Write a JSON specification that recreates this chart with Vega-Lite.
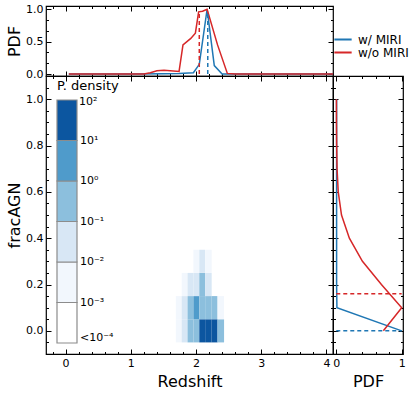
{
  "$schema": "https://vega.github.io/schema/vega-lite/v6.json",
  "padding": {"left": 5, "top": 2, "right": 0, "bottom": 0},
  "datasets": {
    "zpdf": [
      {"series": "w/ MIRI", "z": 0.05, "pdf": 0.0},
      {"series": "w/ MIRI", "z": 1.0, "pdf": 0.0},
      {"series": "w/ MIRI", "z": 1.5, "pdf": 0.005},
      {"series": "w/ MIRI", "z": 1.74, "pdf": 0.01},
      {"series": "w/ MIRI", "z": 1.96, "pdf": 0.02},
      {"series": "w/ MIRI", "z": 2.05, "pdf": 0.15},
      {"series": "w/ MIRI", "z": 2.17, "pdf": 1.0},
      {"series": "w/ MIRI", "z": 2.28, "pdf": 0.13},
      {"series": "w/ MIRI", "z": 2.4, "pdf": 0.0},
      {"series": "w/ MIRI", "z": 3.0, "pdf": 0.0},
      {"series": "w/ MIRI", "z": 4.1, "pdf": 0.0},
      {"series": "w/o MIRI", "z": 0.05, "pdf": 0.0},
      {"series": "w/o MIRI", "z": 1.2, "pdf": 0.0},
      {"series": "w/o MIRI", "z": 1.3, "pdf": 0.02},
      {"series": "w/o MIRI", "z": 1.4, "pdf": 0.05},
      {"series": "w/o MIRI", "z": 1.51, "pdf": 0.06},
      {"series": "w/o MIRI", "z": 1.74, "pdf": 0.04},
      {"series": "w/o MIRI", "z": 1.8, "pdf": 0.45},
      {"series": "w/o MIRI", "z": 1.92, "pdf": 0.55},
      {"series": "w/o MIRI", "z": 1.99, "pdf": 0.63},
      {"series": "w/o MIRI", "z": 2.04, "pdf": 0.96},
      {"series": "w/o MIRI", "z": 2.1, "pdf": 0.97},
      {"series": "w/o MIRI", "z": 2.17, "pdf": 1.0},
      {"series": "w/o MIRI", "z": 2.33, "pdf": 0.45},
      {"series": "w/o MIRI", "z": 2.48, "pdf": 0.01},
      {"series": "w/o MIRI", "z": 2.6, "pdf": 0.0},
      {"series": "w/o MIRI", "z": 4.1, "pdf": 0.0}
    ],
    "zmed": [
      {"series": "w/ MIRI", "z": 2.18, "pdf_lo": 0, "pdf_hi": 0.95},
      {"series": "w/o MIRI", "z": 2.05, "pdf_lo": 0, "pdf_hi": 0.97}
    ],
    "heat": [
      {"z_lo": 1.69, "z_hi": 1.78, "f_lo": -0.05, "f_hi": 0.05, "log_density": -2.3},
      {"z_lo": 1.78, "z_hi": 1.87, "f_lo": -0.05, "f_hi": 0.05, "log_density": -1.3},
      {"z_lo": 1.87, "z_hi": 1.96, "f_lo": -0.05, "f_hi": 0.05, "log_density": -0.3},
      {"z_lo": 1.96, "z_hi": 2.05, "f_lo": -0.05, "f_hi": 0.05, "log_density": -0.3},
      {"z_lo": 2.05, "z_hi": 2.14, "f_lo": -0.05, "f_hi": 0.05, "log_density": 1.5},
      {"z_lo": 2.14, "z_hi": 2.24, "f_lo": -0.05, "f_hi": 0.05, "log_density": 1.5},
      {"z_lo": 2.24, "z_hi": 2.33, "f_lo": -0.05, "f_hi": 0.05, "log_density": 1.5},
      {"z_lo": 2.33, "z_hi": 2.43, "f_lo": -0.05, "f_hi": 0.05, "log_density": -0.3},
      {"z_lo": 1.69, "z_hi": 1.78, "f_lo": 0.05, "f_hi": 0.15, "log_density": -2.3},
      {"z_lo": 1.78, "z_hi": 1.87, "f_lo": 0.05, "f_hi": 0.15, "log_density": -1.3},
      {"z_lo": 1.87, "z_hi": 1.96, "f_lo": 0.05, "f_hi": 0.15, "log_density": -0.3},
      {"z_lo": 1.96, "z_hi": 2.05, "f_lo": 0.05, "f_hi": 0.15, "log_density": 0.7},
      {"z_lo": 2.05, "z_hi": 2.14, "f_lo": 0.05, "f_hi": 0.15, "log_density": -0.3},
      {"z_lo": 2.14, "z_hi": 2.24, "f_lo": 0.05, "f_hi": 0.15, "log_density": -0.3},
      {"z_lo": 2.24, "z_hi": 2.33, "f_lo": 0.05, "f_hi": 0.15, "log_density": -0.3},
      {"z_lo": 2.33, "z_hi": 2.43, "f_lo": 0.05, "f_hi": 0.15, "log_density": -2.3},
      {"z_lo": 1.78, "z_hi": 1.87, "f_lo": 0.15, "f_hi": 0.25, "log_density": -2.3},
      {"z_lo": 1.87, "z_hi": 1.96, "f_lo": 0.15, "f_hi": 0.25, "log_density": -1.3},
      {"z_lo": 1.96, "z_hi": 2.05, "f_lo": 0.15, "f_hi": 0.25, "log_density": -1.3},
      {"z_lo": 2.05, "z_hi": 2.14, "f_lo": 0.15, "f_hi": 0.25, "log_density": -0.3},
      {"z_lo": 2.14, "z_hi": 2.24, "f_lo": 0.15, "f_hi": 0.25, "log_density": -1.3},
      {"z_lo": 1.96, "z_hi": 2.05, "f_lo": 0.25, "f_hi": 0.35, "log_density": -2.3},
      {"z_lo": 2.05, "z_hi": 2.14, "f_lo": 0.25, "f_hi": 0.35, "log_density": -1.3},
      {"z_lo": 2.14, "z_hi": 2.24, "f_lo": 0.25, "f_hi": 0.35, "log_density": -2.3}
    ],
    "fpdf": [
      {"series": "w/ MIRI", "frac": 0.0, "pdf": 1.0},
      {"series": "w/ MIRI", "frac": 0.1, "pdf": 0.01},
      {"series": "w/ MIRI", "frac": 0.2, "pdf": 0.005},
      {"series": "w/ MIRI", "frac": 0.3, "pdf": 0.005},
      {"series": "w/ MIRI", "frac": 0.4, "pdf": 0.005},
      {"series": "w/ MIRI", "frac": 0.5, "pdf": 0.005},
      {"series": "w/ MIRI", "frac": 0.6, "pdf": 0.005},
      {"series": "w/ MIRI", "frac": 0.7, "pdf": 0.005},
      {"series": "w/ MIRI", "frac": 0.8, "pdf": 0.005},
      {"series": "w/ MIRI", "frac": 0.9, "pdf": 0.005},
      {"series": "w/ MIRI", "frac": 1.0, "pdf": 0.005},
      {"series": "w/o MIRI", "frac": 0.0, "pdf": 0.72},
      {"series": "w/o MIRI", "frac": 0.1, "pdf": 1.0},
      {"series": "w/o MIRI", "frac": 0.2, "pdf": 0.69},
      {"series": "w/o MIRI", "frac": 0.3, "pdf": 0.4},
      {"series": "w/o MIRI", "frac": 0.4, "pdf": 0.2},
      {"series": "w/o MIRI", "frac": 0.5, "pdf": 0.08},
      {"series": "w/o MIRI", "frac": 0.6, "pdf": 0.03},
      {"series": "w/o MIRI", "frac": 0.7, "pdf": 0.012},
      {"series": "w/o MIRI", "frac": 0.8, "pdf": 0.006},
      {"series": "w/o MIRI", "frac": 0.9, "pdf": 0.003},
      {"series": "w/o MIRI", "frac": 1.0, "pdf": 0.002}
    ],
    "fmed": [
      {"series": "w/ MIRI", "frac": 0.0, "pdf_lo": 0, "pdf_hi": 1},
      {"series": "w/o MIRI", "frac": 0.16, "pdf_lo": 0, "pdf_hi": 1}
    ]
  },
  "spacing": 0,
  "bounds": "flush",
  "resolve": {
    "scale": {"stroke": "independent", "fill": "independent", "strokeWidth": "independent"},
    "legend": {"stroke": "independent", "fill": "independent", "strokeWidth": "independent"}
  },
  "vconcat": [
    {
      "width": 287,
      "height": 70,
      "layer": [
        {
          "data": {"name": "zpdf"},
          "mark": {"type": "line", "strokeWidth": 1.5, "clip": true},
          "encoding": {
            "x": {
              "field": "z", "type": "quantitative",
              "scale": {"domain": [-0.3, 4.1], "nice": false, "zero": false},
              "axis": {
                "orient": "bottom", "title": null, "labels": false,
                "values": [-0.2, 0, 0.2, 0.4, 0.6, 0.8, 1, 1.2, 1.4, 1.6, 1.8, 2, 2.2, 2.4, 2.6, 2.8, 3, 3.2, 3.4, 3.6, 3.8, 4],
                "tickSize": {"condition": {"test": "abs(datum.value - round(datum.value)) < 0.001", "value": -5}, "value": -2.5}
              }
            },
            "y": {
              "field": "pdf", "type": "quantitative",
              "scale": {"domain": [-0.03, 1.05], "nice": false, "zero": false},
              "axis": {
                "orient": "left", "title": "PDF", "format": ".1f",
                "values": [0, 0.1667, 0.3333, 0.5, 0.6667, 0.8333, 1],
                "labelExpr": "abs(datum.value * 2 - round(datum.value * 2)) < 0.001 ? datum.label : ''",
                "tickSize": {"condition": {"test": "abs(datum.value * 2 - round(datum.value * 2)) < 0.001", "value": -5}, "value": -2.5}
              }
            },
            "stroke": {
              "field": "series", "type": "nominal",
              "scale": {"domain": ["w/ MIRI", "w/o MIRI"], "range": ["#1f77b4", "#d62728"]},
              "legend": {
                "orient": "none", "legendX": 287, "legendY": 27, "title": null,
                "symbolType": "stroke", "symbolStrokeWidth": 2, "symbolSize": 300, "clipHeight": 13,
                "labelFontSize": 12, "labelColor": "#000000", "labelOffset": 5, "rowPadding": 0
              }
            }
          }
        },
        {
          "data": {"name": "zmed"},
          "mark": {"type": "rule", "strokeDash": [4, 3], "strokeWidth": 1.5},
          "encoding": {
            "x": {
              "field": "z", "type": "quantitative",
              "axis": {
                "orient": "top", "title": null, "labels": false,
                "values": [-0.2, 0, 0.2, 0.4, 0.6, 0.8, 1, 1.2, 1.4, 1.6, 1.8, 2, 2.2, 2.4, 2.6, 2.8, 3, 3.2, 3.4, 3.6, 3.8, 4],
                "tickSize": {"condition": {"test": "abs(datum.value - round(datum.value)) < 0.001", "value": -5}, "value": -2.5}
              }
            },
            "y": {
              "field": "pdf_lo", "type": "quantitative",
              "axis": {
                "orient": "right", "title": null, "labels": false,
                "values": [0, 0.1667, 0.3333, 0.5, 0.6667, 0.8333, 1],
                "tickSize": {"condition": {"test": "abs(datum.value * 2 - round(datum.value * 2)) < 0.001", "value": -5}, "value": -2.5}
              }
            },
            "y2": {"field": "pdf_hi"},
            "stroke": {"field": "series", "type": "nominal", "legend": null}
          }
        }
      ],
      "resolve": {"axis": {"x": "independent", "y": "independent"}}
    },
    {
      "spacing": 0,
      "bounds": "flush",
      "resolve": {
        "scale": {"stroke": "independent", "fill": "independent", "strokeWidth": "independent"},
        "legend": {"stroke": "independent", "fill": "independent", "strokeWidth": "independent"}
      },
      "hconcat": [
        {
          "width": 287,
          "height": 278,
          "layer": [
            {
              "data": {"name": "heat"},
              "mark": {"type": "rect"},
              "encoding": {
                "x": {
                  "field": "z_lo", "type": "quantitative",
                  "scale": {"domain": [-0.3, 4.1], "nice": false, "zero": false},
                  "axis": {
                    "orient": "bottom", "title": "Redshift", "format": ".0f",
                    "values": [-0.2, 0, 0.2, 0.4, 0.6, 0.8, 1, 1.2, 1.4, 1.6, 1.8, 2, 2.2, 2.4, 2.6, 2.8, 3, 3.2, 3.4, 3.6, 3.8, 4],
                    "labelExpr": "abs(datum.value - round(datum.value)) < 0.001 ? datum.label : ''",
                    "tickSize": {"condition": {"test": "abs(datum.value - round(datum.value)) < 0.001", "value": -5}, "value": -2.5}
                  }
                },
                "x2": {"field": "z_hi"},
                "y": {
                  "field": "f_lo", "type": "quantitative",
                  "scale": {"domain": [-0.1, 1.1], "nice": false, "zero": false},
                  "axis": {
                    "orient": "left", "title": "fracAGN", "format": ".1f",
                    "values": [-0.05, 0, 0.05, 0.1, 0.15, 0.2, 0.25, 0.3, 0.35, 0.4, 0.45, 0.5, 0.55, 0.6, 0.65, 0.7, 0.75, 0.8, 0.85, 0.9, 0.95, 1, 1.05],
                    "labelExpr": "abs(datum.value * 5 - round(datum.value * 5)) < 0.001 ? datum.label : ''",
                    "tickSize": {"condition": {"test": "abs(datum.value * 5 - round(datum.value * 5)) < 0.001", "value": -5}, "value": -2.5}
                  }
                },
                "y2": {"field": "f_hi"},
                "fill": {
                  "field": "log_density", "type": "quantitative",
                  "scale": {"type": "threshold", "domain": [-3, -2, -1, 0, 1], "range": ["#ffffff", "#f2f7fd", "#d8e7f5", "#8cbfdd", "#4f9bcb", "#0c56a0"]},
                  "legend": {
                    "type": "gradient", "orient": "none", "legendX": 11, "legendY": 4,
                    "title": "P. density", "titleFontSize": 13, "titleFontWeight": "normal", "titleColor": "#000000", "titlePadding": 7,
                    "gradientLength": 243, "gradientThickness": 20, "gradientStrokeColor": "#8c8c8c", "gradientStrokeWidth": 1.2,
                    "labelFontSize": 11, "labelColor": "#000000", "labelOffset": 3, "labelOverlap": false,
                    "labelExpr": "datum.value < -3.5 ? '<10⁻⁴' : datum.value < -2.5 ? '10⁻³' : datum.value < -1.5 ? '10⁻²' : datum.value < -0.5 ? '10⁻¹' : datum.value < 0.5 ? '10⁰' : datum.value < 1.5 ? '10¹' : '10²'"
                  }
                }
              }
            },
            {
              "data": {"name": "heat"},
              "mark": {"type": "rect", "opacity": 0},
              "encoding": {
                "x": {
                  "field": "z_lo", "type": "quantitative",
                  "axis": {
                    "orient": "top", "title": null, "labels": false,
                    "values": [-0.2, 0, 0.2, 0.4, 0.6, 0.8, 1, 1.2, 1.4, 1.6, 1.8, 2, 2.2, 2.4, 2.6, 2.8, 3, 3.2, 3.4, 3.6, 3.8, 4],
                    "tickSize": {"condition": {"test": "abs(datum.value - round(datum.value)) < 0.001", "value": -5}, "value": -2.5}
                  }
                },
                "x2": {"field": "z_hi"},
                "y": {
                  "field": "f_lo", "type": "quantitative",
                  "axis": {
                    "orient": "right", "title": null, "labels": false,
                    "values": [-0.05, 0, 0.05, 0.1, 0.15, 0.2, 0.25, 0.3, 0.35, 0.4, 0.45, 0.5, 0.55, 0.6, 0.65, 0.7, 0.75, 0.8, 0.85, 0.9, 0.95, 1, 1.05],
                    "tickSize": {"condition": {"test": "abs(datum.value * 5 - round(datum.value * 5)) < 0.001", "value": -5}, "value": -2.5}
                  }
                },
                "y2": {"field": "f_hi"},
                "strokeWidth": {
                  "field": "log_density", "type": "quantitative",
                  "legend": {
                    "orient": "none", "legendX": 22, "legendY": 20, "title": null,
                    "values": [1.5], "labelExpr": "'10²'",
                    "symbolOpacity": 0, "symbolSize": 1, "labelOffset": 0,
                    "labelFontSize": 11, "labelColor": "#000000"
                  }
                }
              }
            }
          ],
          "resolve": {"axis": {"x": "independent", "y": "independent"}}
        },
        {
          "width": 70,
          "height": 278,
          "layer": [
            {
              "data": {"name": "fpdf"},
              "mark": {"type": "line", "strokeWidth": 1.5, "clip": true},
              "encoding": {
                "x": {
                  "field": "pdf", "type": "quantitative",
                  "scale": {"domain": [-0.05, 1.02], "nice": false, "zero": false},
                  "axis": {
                    "orient": "bottom", "title": "PDF", "format": ".0f",
                    "values": [0, 0.2, 0.4, 0.6, 0.8, 1],
                    "labelExpr": "abs(datum.value - round(datum.value)) < 0.001 ? datum.label : ''",
                    "tickSize": {"condition": {"test": "abs(datum.value - round(datum.value)) < 0.001", "value": -5}, "value": -2.5}
                  }
                },
                "y": {
                  "field": "frac", "type": "quantitative",
                  "scale": {"domain": [-0.1, 1.1], "nice": false, "zero": false},
                  "axis": {
                    "orient": "left", "title": null, "labels": false,
                    "values": [-0.05, 0, 0.05, 0.1, 0.15, 0.2, 0.25, 0.3, 0.35, 0.4, 0.45, 0.5, 0.55, 0.6, 0.65, 0.7, 0.75, 0.8, 0.85, 0.9, 0.95, 1, 1.05],
                    "tickSize": {"condition": {"test": "abs(datum.value * 5 - round(datum.value * 5)) < 0.001", "value": -5}, "value": -2.5}
                  }
                },
                "order": {"field": "frac", "type": "quantitative"},
                "stroke": {
                  "field": "series", "type": "nominal",
                  "scale": {"domain": ["w/ MIRI", "w/o MIRI"], "range": ["#1f77b4", "#d62728"]},
                  "legend": null
                }
              }
            },
            {
              "data": {"name": "fmed"},
              "mark": {"type": "rule", "strokeDash": [4, 3], "strokeWidth": 1.5},
              "encoding": {
                "y": {
                  "field": "frac", "type": "quantitative",
                  "axis": {
                    "orient": "right", "title": null, "labels": false,
                    "values": [-0.05, 0, 0.05, 0.1, 0.15, 0.2, 0.25, 0.3, 0.35, 0.4, 0.45, 0.5, 0.55, 0.6, 0.65, 0.7, 0.75, 0.8, 0.85, 0.9, 0.95, 1, 1.05],
                    "tickSize": {"condition": {"test": "abs(datum.value * 5 - round(datum.value * 5)) < 0.001", "value": -5}, "value": -2.5}
                  }
                },
                "x": {
                  "field": "pdf_lo", "type": "quantitative",
                  "axis": {
                    "orient": "top", "title": null, "labels": false,
                    "values": [0, 0.2, 0.4, 0.6, 0.8, 1],
                    "tickSize": {"condition": {"test": "abs(datum.value - round(datum.value)) < 0.001", "value": -5}, "value": -2.5}
                  }
                },
                "x2": {"field": "pdf_hi"},
                "stroke": {"field": "series", "type": "nominal", "legend": null}
              }
            }
          ],
          "resolve": {"axis": {"x": "independent", "y": "independent"}}
        }
      ]
    }
  ],
  "config": {
    "font": "DejaVu Sans",
    "view": {"stroke": "#000000", "strokeWidth": 1.2},
    "axis": {
      "domain": false, "grid": false, "tickColor": "#000000", "tickWidth": 1,
      "labelFont": "DejaVu Sans", "labelFontSize": 11, "labelColor": "#000000", "labelPadding": 8,
      "labelOverlap": false, "labelFlush": false,
      "titleFont": "DejaVu Sans", "titleFontSize": 16, "titleFontWeight": "normal", "titleColor": "#000000", "titlePadding": 3
    },
    "legend": {"labelFont": "DejaVu Sans", "titleFont": "DejaVu Sans"}
  }
}
